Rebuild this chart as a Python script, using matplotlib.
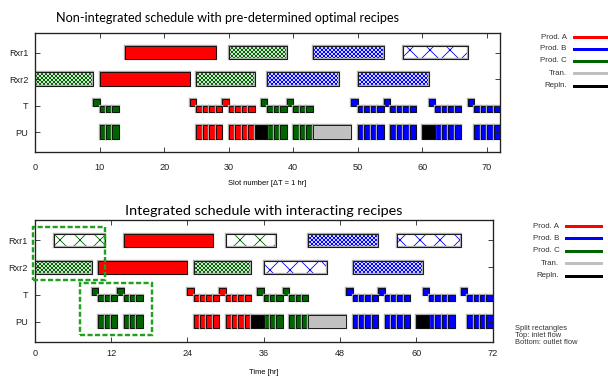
import numpy as np
import matplotlib.pyplot as plt
import matplotlib.patheffects as pe
from matplotlib.lines import Line2D
from matplotlib.patches import Rectangle

DPI = 60
plt.rcParams['font.family'] = ['Liberation Sans', 'DejaVu Sans']
plt.rcParams['hatch.linewidth'] = 1.0

COLORS = {'A': '#ff0000', 'B': '#0000ff', 'C': '#006400',
          'Tran': '#c0c0c0', 'Repl': '#000000'}
# recipe 1 -> fine checker, recipe 2 -> coarse cross-hatch
HATCH = {1: 'xxxxx', 2: 'x'}
ROWS = {'Rxr1': 4, 'Rxr2': 3, 'T': 2, 'PU': 1}
HALO = [pe.withStroke(linewidth=2.8, foreground='#aaaaaa')]

# ---------------- non-integrated schedule (slots of 1 hr) ----------------
ni_rxr1_start = [14, 30, 43, 57]
ni_rxr1_end = [28, 39, 54, 67]
ni_rxr1_prod = ['A', 'C', 'B', 'B']
ni_rxr1_recipe = [1, 1, 1, 2]

ni_rxr2_start = [0, 10, 25, 36, 50]
ni_rxr2_end = [9, 24, 34, 47, 61]
ni_rxr2_prod = ['C', 'A', 'C', 'B', 'B']
ni_rxr2_recipe = [1, 1, 1, 1, 1]

ni_tank_in = [9, 24, 29, 35, 39, 49, 54, 61, 67]
ni_tank_in_prod = ['C', 'A', 'A', 'C', 'C', 'B', 'B', 'B', 'B']
ni_tank_out = [10, 25, 30, 36, 40, 50, 55, 62, 68]
ni_tank_out_len = [3, 4, 4, 3, 3, 4, 4, 4, 4]
ni_tank_out_prod = ['C', 'A', 'A', 'C', 'C', 'B', 'B', 'B', 'B']

ni_pu_start = [10, 25, 30, 36, 40, 50, 55, 62, 68]
ni_pu_len = [3, 4, 4, 3, 3, 4, 4, 4, 4]
ni_pu_prod = ['C', 'A', 'A', 'C', 'C', 'B', 'B', 'B', 'B']
ni_pu_other_start = [34, 43, 60]
ni_pu_other_len = [2, 6, 2]
ni_pu_other_kind = ['Repl', 'Tran', 'Repl']

# ---------------- integrated schedule (time in hr) ----------------
in_rxr1_start = [3, 14, 30, 43, 57]
in_rxr1_end = [11, 28, 38, 54, 67]
in_rxr1_prod = ['C', 'A', 'C', 'B', 'B']
in_rxr1_recipe = [2, 1, 2, 1, 2]

in_rxr2_start = [0, 10, 25, 36, 50]
in_rxr2_end = [9, 24, 34, 46, 61]
in_rxr2_prod = ['C', 'A', 'C', 'B', 'B']
in_rxr2_recipe = [1, 1, 1, 2, 1]

in_tank_in = [9, 13, 24, 29, 35, 39, 49, 54, 61, 67]
in_tank_in_prod = ['C', 'C', 'A', 'A', 'C', 'C', 'B', 'B', 'B', 'B']
in_tank_out = [10, 14, 25, 30, 36, 40, 50, 55, 62, 68]
in_tank_out_len = [3, 3, 4, 4, 3, 3, 4, 4, 4, 4]
in_tank_out_prod = ['C', 'C', 'A', 'A', 'C', 'C', 'B', 'B', 'B', 'B']

in_pu_start = [10, 14, 25, 30, 36, 40, 50, 55, 62, 68]
in_pu_len = [3, 3, 4, 4, 3, 3, 4, 4, 4, 4]
in_pu_prod = ['C', 'C', 'A', 'A', 'C', 'C', 'B', 'B', 'B', 'B']
in_pu_other_start = [34, 43, 60]
in_pu_other_len = [2, 6, 2]
in_pu_other_kind = ['Repl', 'Tran', 'Repl']

legend_labels = ['Prod. A', 'Prod. B', 'Prod. C', 'Tran.', 'Repln.']
legend_keys = ['A', 'B', 'C', 'Tran', 'Repl']


def outline(bars):
    for b in bars:
        b.set_path_effects(HALO)


def draw_reactor(ax, row, starts, ends, prods, recipes):
    y = ROWS[row]
    for s, e, p, r in zip(starts, ends, prods, recipes):
        if p == 'A':
            outline(ax.barh(y, e - s, left=s, height=0.5, color=COLORS[p],
                            edgecolor='black', linewidth=1.0))
        else:
            ax.barh(y, e - s, left=s, height=0.5, color='white',
                    edgecolor=COLORS[p], linewidth=0, hatch=HATCH[r])
            outline(ax.barh(y, e - s, left=s, height=0.5, fill=False,
                            edgecolor='black', linewidth=1.0))


def draw_slices(ax, y, h, starts, lengths, prods):
    for s, n, p in zip(starts, lengths, prods):
        outline(ax.barh(y, np.ones(n), left=s + np.arange(n), height=h,
                        color=COLORS[p], edgecolor='black', linewidth=1.0))


def draw_schedule(ax, rxr1, rxr2, tank, pu):
    draw_reactor(ax, 'Rxr1', *rxr1)
    draw_reactor(ax, 'Rxr2', *rxr2)

    # storage tank: top half = inlet, bottom half = outlet
    t_in, t_in_prod, t_out, t_out_len, t_out_prod = tank
    yt = ROWS['T']
    draw_slices(ax, yt + 0.125, 0.25, t_in, [1] * len(t_in), t_in_prod)
    draw_slices(ax, yt - 0.125, 0.25, t_out, t_out_len, t_out_prod)

    p_start, p_len, p_prod, o_start, o_len, o_kind = pu
    yp = ROWS['PU']
    draw_slices(ax, yp, 0.5, p_start, p_len, p_prod)
    for s, n, k in zip(o_start, o_len, o_kind):
        outline(ax.barh(yp, n, left=s, height=0.5, color=COLORS[k],
                        edgecolor='black', linewidth=1.0))

    ax.set_xlim(0, 72)
    ax.set_ylim(0.25, 4.75)
    ax.set_yticks(list(ROWS.values()), list(ROWS.keys()))
    ax.tick_params(direction='in', top=True, right=True, length=6,
                   width=1.0, labelsize=11, colors='#222222')
    ax.tick_params(axis='y', pad=8)
    for sp in ax.spines.values():
        sp.set_linewidth(1.6)
        sp.set_color('#222222')


def draw_legend(fig, x_text, x0, x1, ys):
    for lab, key, y in zip(legend_labels, legend_keys, ys):
        fig.text(x_text / 608, 1 - y / 377, lab, ha='right', va='center',
                 fontsize=9.5, color='#333333')
        fig.add_artist(Line2D([x0 / 608, x1 / 608], [1 - y / 377] * 2,
                              color=COLORS[key], lw=3.6,
                              transform=fig.transFigure))


fig = plt.figure(figsize=(608 / DPI, 377 / DPI), dpi=DPI)

ax1 = fig.add_axes([35 / 608, 1 - 152 / 377, 465 / 608, 119.3 / 377])
draw_schedule(ax1,
              (ni_rxr1_start, ni_rxr1_end, ni_rxr1_prod, ni_rxr1_recipe),
              (ni_rxr2_start, ni_rxr2_end, ni_rxr2_prod, ni_rxr2_recipe),
              (ni_tank_in, ni_tank_in_prod, ni_tank_out, ni_tank_out_len, ni_tank_out_prod),
              (ni_pu_start, ni_pu_len, ni_pu_prod,
               ni_pu_other_start, ni_pu_other_len, ni_pu_other_kind))
ax1.set_xticks(np.arange(0, 71, 10))
ax1.tick_params(axis='x', pad=13.5)
ax1.set_xlabel('Slot number [\u0394T = 1 hr]', fontsize=9, labelpad=9.5)

ax2 = fig.add_axes([34.7 / 608, 1 - 342 / 377, 458 / 608, 122 / 377])
draw_schedule(ax2,
              (in_rxr1_start, in_rxr1_end, in_rxr1_prod, in_rxr1_recipe),
              (in_rxr2_start, in_rxr2_end, in_rxr2_prod, in_rxr2_recipe),
              (in_tank_in, in_tank_in_prod, in_tank_out, in_tank_out_len, in_tank_out_prod),
              (in_pu_start, in_pu_len, in_pu_prod,
               in_pu_other_start, in_pu_other_len, in_pu_other_kind))
ax2.set_xticks(np.arange(0, 73, 12))
ax2.tick_params(axis='x', pad=9)
ax2.set_xlabel('Time [hr]', fontsize=9, labelpad=12)

# highlight where the recipes interact
for (x, y, w, h) in [(-0.3, 2.54, 11.4, 1.94), (7.1, 0.49, 11.4, 1.93)]:
    ax2.add_patch(Rectangle((x, y), w, h, fill=False, edgecolor='#1fa01f',
                            lw=2.9, linestyle=(0, (2.1, 1.0)), clip_on=False,
                            zorder=5))

fig.text(227 / 608, 1 - 18 / 377,
         'Non-integrated schedule with pre-determined optimal recipes',
         ha='center', va='center', fontsize=15.2, family='Lato')
fig.text(264 / 608, 1 - 211 / 377,
         'Integrated schedule with interacting recipes',
         ha='center', va='center', fontsize=17.3, family='Lato')

draw_legend(fig, 566.7, 574, 607, [37.3, 49, 61, 73.3, 85.7])
draw_legend(fig, 559.3, 566, 600.7, [226, 238.3, 250.7, 263.3, 275.7])

for y, s in zip([328.3, 335.5, 342.5],
                ['Split rectangles', 'Top: inlet flow', 'Bottom: outlet flow']):
    fig.text(515 / 608, 1 - y / 377, s, ha='left', va='center',
             fontsize=9, color='#333333')

fig.savefig('out.png', dpi=DPI)
